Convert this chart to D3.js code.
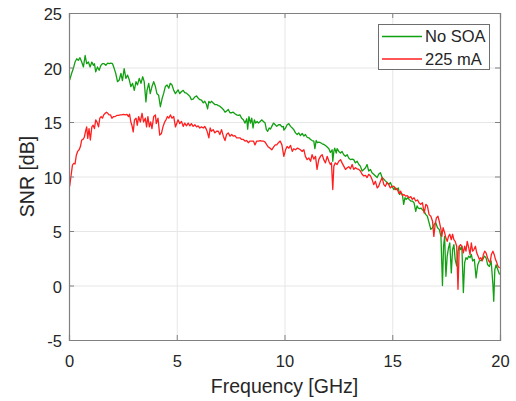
<!DOCTYPE html>
<html>
<head>
<meta charset="utf-8">
<script src="https://cdn.jsdelivr.net/npm/d3@7"></script>
<style>
body { margin: 0; background: #fff; }
text { font-family: "Liberation Sans", Arial, Helvetica, sans-serif; fill: #262626; }
</style>
</head>
<body>
<svg id="chart" width="516" height="401"></svg>
<script>
// [frequency GHz, SNR dB]
const noSoa = [
  [0.03,18.84],[0.12,19.45],[0.20,19.9],[0.28,20.5],[0.36,20.8],[0.43,20.65],[0.51,20.9],[0.59,20.5],
  [0.67,20.05],[0.75,21.1],[0.82,20.35],[0.90,20.5],[0.98,20.05],[1.06,20.5],[1.13,20.2],[1.18,20.35],
  [1.24,19.6],[1.32,20.05],[1.40,19.75],[1.48,20.2],[1.55,20.35],[1.63,20.35],[1.71,20.2],[1.79,20.4],
  [1.86,20.35],[1.94,20.4],[2.02,20.35],[2.10,19.9],[2.17,19.45],[2.25,18.7],[2.33,18.85],[2.41,19.45],
  [2.48,18.8],[2.56,19.9],[2.64,19.0],[2.72,19.3],[2.80,18.85],[2.87,18.25],[2.95,18.55],[3.03,17.9],
  [3.11,18.7],[3.18,18.4],[3.26,19.0],[3.34,18.55],[3.42,19.15],[3.49,18.7],[3.57,16.85],[3.62,17.9],
  [3.70,18.55],[3.77,17.6],[3.85,18.25],[3.93,18.7],[4.01,18.25],[4.08,17.6],[4.16,17.45],[4.24,16.4],
  [4.32,17.15],[4.39,17.6],[4.47,18.25],[4.55,18.4],[4.63,18.1],[4.70,18.55],[4.78,18.4],[4.86,17.9],
  [4.94,17.6],[5.06,17.95],[5.14,17.6],[5.22,17.8],[5.30,17.9],[5.37,17.7],[5.45,17.65],[5.53,17.5],
  [5.61,17.35],[5.68,17.05],[5.76,17.1],[5.84,17.3],[5.92,17.4],[5.99,17.2],[6.07,17.05],[6.15,17.0],
  [6.23,16.75],[6.30,16.9],[6.38,16.6],[6.43,16.2],[6.49,16.9],[6.55,16.75],[6.61,16.9],[6.69,16.75],
  [6.77,16.6],[6.85,16.6],[6.93,16.5],[7.00,16.45],[7.08,16.3],[7.16,16.15],[7.24,15.9],[7.31,16.0],
  [7.39,16.15],[7.47,15.85],[7.55,15.85],[7.62,15.9],[7.70,15.75],[7.78,15.65],[7.86,15.6],[7.93,15.65],
  [8.01,15.35],[8.09,15.2],[8.17,14.9],[8.25,15.3],[8.29,14.35],[8.35,15.5],[8.42,14.9],[8.48,15.35],
  [8.54,14.45],[8.60,15.2],[8.66,14.9],[8.73,15.05],[8.79,14.9],[8.87,15.05],[8.94,15.2],[9.02,15.05],
  [9.10,14.9],[9.16,14.3],[9.22,14.15],[9.29,14.45],[9.35,14.35],[9.41,14.6],[9.49,14.9],[9.57,14.75],
  [9.64,14.6],[9.72,14.75],[9.80,14.75],[9.88,14.55],[9.95,14.6],[9.97,14.25],[10.05,14.45],[10.12,14.75],
  [10.20,14.85],[10.28,14.6],[10.36,14.45],[10.43,14.3],[10.51,14.0],[10.59,13.85],[10.66,14.0],[10.74,13.75],
  [10.82,13.95],[10.90,13.7],[10.97,13.85],[11.05,13.6],[11.13,13.55],[11.21,13.4],[11.28,13.3],[11.36,13.25],
  [11.41,12.55],[11.47,13.3],[11.53,13.1],[11.59,13.15],[11.67,13.1],[11.75,13.0],[11.82,12.95],[11.90,12.85],
  [11.98,12.7],[12.06,12.55],[12.13,12.2],[12.21,12.45],[12.24,11.4],[12.29,12.3],[12.33,12.6],[12.40,12.15],
  [12.44,12.55],[12.52,12.3],[12.60,12.15],[12.67,12.3],[12.75,12.0],[12.83,11.85],[12.91,12.0],[12.98,11.7],
  [13.06,11.55],[13.14,11.6],[13.21,11.55],[13.29,11.25],[13.37,11.4],[13.45,11.1],[13.52,10.95],[13.60,10.5],
  [13.68,10.65],[13.76,10.8],[13.83,11.1],[13.91,10.5],[13.99,10.65],[14.06,10.35],[14.14,10.2],[14.22,10.05],
  [14.30,9.9],[14.37,10.2],[14.45,10.35],[14.53,9.9],[14.61,9.75],[14.68,9.6],[14.76,9.45],[14.84,9.25],
  [14.91,9.45],[14.99,9.1],[15.08,8.8],[15.16,8.95],[15.23,8.8],[15.28,8.95],[15.34,8.35],[15.40,8.5],
  [15.47,8.35],[15.53,7.45],[15.59,8.05],[15.65,7.9],[15.72,8.05],[15.78,7.9],[15.86,7.75],[15.93,7.75],
  [16.01,7.6],[16.09,6.8],[16.15,7.3],[16.21,7.1],[16.28,7.05],[16.34,7.1],[16.40,6.95],[16.48,6.8],
  [16.56,6.5],[16.63,6.35],[16.71,5.75],[16.79,5.15],[16.87,5.3],[16.94,5.6],[17.02,5.75],[17.10,5.3],
  [17.18,5.15],[17.26,4.5],[17.33,0.0],[17.38,3.6],[17.43,4.5],[17.49,0.85],[17.55,2.7],[17.61,3.45],
  [17.67,3.9],[17.74,1.15],[17.80,3.3],[17.86,3.75],[17.92,2.4],[17.99,1.8],[18.05,3.15],[18.11,3.6],
  [18.17,3.3],[18.23,3.6],[18.30,-0.65],[18.36,2.1],[18.42,2.55],[18.48,2.4],[18.55,2.7],[18.61,2.55],
  [18.67,2.85],[18.73,2.25],[18.81,2.4],[18.89,0.7],[18.97,1.9],[19.04,2.25],[19.12,2.3],[19.20,2.4],
  [19.28,2.7],[19.35,2.55],[19.43,1.9],[19.51,1.75],[19.59,2.25],[19.67,0.1],[19.71,-1.45],[19.76,1.45],
  [19.82,1.9],[19.90,1.45],[19.98,1.0]
]

const ma225 = [
  [0.03,9.08],[0.09,10.0],[0.16,11.05],[0.22,11.2],[0.28,11.15],[0.34,11.95],[0.40,12.3],[0.47,12.45],
  [0.53,12.75],[0.59,13.35],[0.65,13.4],[0.71,13.6],[0.78,14.25],[0.82,14.55],[0.87,13.5],[0.93,14.4],
  [0.99,13.35],[1.06,14.55],[1.12,14.7],[1.18,14.4],[1.24,15.2],[1.30,15.0],[1.37,14.55],[1.43,15.35],
  [1.49,15.5],[1.55,15.35],[1.61,15.65],[1.68,15.8],[1.74,15.9],[1.80,15.8],[1.86,15.65],[1.93,15.65],
  [1.99,15.35],[2.07,15.5],[2.14,15.5],[2.22,15.6],[2.30,15.6],[2.38,15.65],[2.45,15.65],[2.53,15.7],
  [2.61,15.65],[2.69,15.7],[2.76,15.5],[2.81,15.72],[2.87,15.0],[2.92,14.7],[2.98,14.1],[3.04,15.2],
  [3.11,15.35],[3.17,14.7],[3.23,15.5],[3.31,15.0],[3.39,15.8],[3.46,15.0],[3.54,15.35],[3.60,14.55],
  [3.66,15.5],[3.73,14.55],[3.79,15.0],[3.85,14.4],[3.93,15.5],[4.01,15.65],[4.05,14.85],[4.13,15.35],
  [4.21,13.8],[4.29,13.95],[4.36,14.55],[4.44,15.0],[4.50,15.2],[4.57,15.5],[4.63,15.35],[4.71,15.65],
  [4.78,15.35],[4.86,15.5],[4.94,14.55],[5.06,15.2],[5.14,14.85],[5.22,15.05],[5.30,14.6],[5.37,14.9],
  [5.45,14.65],[5.53,14.9],[5.61,14.65],[5.68,14.85],[5.76,14.6],[5.84,14.75],[5.92,14.55],[5.99,14.65],
  [6.07,14.45],[6.15,14.55],[6.23,14.45],[6.30,14.6],[6.38,14.3],[6.43,14.0],[6.49,13.55],[6.55,14.45],
  [6.61,14.15],[6.69,14.3],[6.77,14.0],[6.85,14.15],[6.93,14.15],[7.00,13.85],[7.08,14.3],[7.16,13.7],
  [7.24,13.3],[7.31,13.85],[7.39,14.0],[7.47,13.7],[7.55,13.85],[7.62,13.7],[7.70,13.75],[7.78,13.55],
  [7.86,13.55],[7.93,13.55],[8.01,13.4],[8.09,13.4],[8.17,13.25],[8.25,13.3],[8.32,13.1],[8.40,13.25],
  [8.48,13.25],[8.56,13.25],[8.63,12.9],[8.71,13.25],[8.79,13.25],[8.87,13.3],[8.94,13.25],[9.02,13.25],
  [9.10,13.15],[9.18,12.9],[9.25,12.7],[9.33,12.6],[9.41,12.45],[9.49,12.7],[9.57,12.9],[9.64,12.9],
  [9.72,13.1],[9.80,13.25],[9.88,12.9],[9.97,11.85],[10.05,12.45],[10.12,12.75],[10.20,12.6],[10.28,12.85],
  [10.36,12.3],[10.43,12.55],[10.51,12.45],[10.59,12.6],[10.66,12.55],[10.74,12.45],[10.82,12.3],[10.90,12.45],
  [10.97,11.85],[11.05,11.55],[11.13,11.7],[11.21,11.4],[11.28,12.0],[11.36,11.6],[11.44,11.85],[11.51,10.65],
  [11.59,11.55],[11.67,11.85],[11.75,12.0],[11.82,11.55],[11.90,11.25],[11.98,11.85],[12.06,11.4],[12.13,11.1],
  [12.18,11.25],[12.24,8.8],[12.29,10.95],[12.36,11.25],[12.44,11.1],[12.52,11.4],[12.60,11.55],[12.67,11.25],
  [12.75,10.95],[12.83,10.65],[12.91,10.8],[12.98,10.9],[13.06,10.7],[13.14,11.1],[13.21,10.65],[13.29,10.8],
  [13.37,10.7],[13.45,10.65],[13.52,10.5],[13.60,10.2],[13.68,10.05],[13.76,10.1],[13.83,9.9],[13.91,10.2],
  [13.99,10.05],[14.06,9.75],[14.14,9.25],[14.22,9.55],[14.30,8.95],[14.37,9.1],[14.45,9.55],[14.53,9.9],
  [14.61,9.25],[14.68,9.1],[14.76,9.45],[14.84,9.25],[14.91,8.95],[14.99,9.1],[15.08,9.1],[15.16,8.8],
  [15.23,8.85],[15.31,8.45],[15.39,8.65],[15.47,8.25],[15.54,8.35],[15.62,8.2],[15.70,8.25],[15.78,8.05],
  [15.86,8.15],[15.93,7.9],[16.01,8.05],[16.09,7.75],[16.17,7.85],[16.24,7.6],[16.32,7.45],[16.40,7.6],
  [16.48,6.65],[16.56,7.45],[16.63,7.3],[16.71,6.5],[16.79,6.35],[16.87,5.9],[16.93,4.5],[16.99,5.6],
  [17.05,6.2],[17.12,6.35],[17.18,5.9],[17.26,5.15],[17.30,4.5],[17.36,5.3],[17.43,4.85],[17.49,4.35],
  [17.55,4.05],[17.61,4.5],[17.67,4.7],[17.74,4.2],[17.80,4.7],[17.86,4.2],[17.92,4.05],[17.99,3.6],
  [18.05,-0.35],[18.11,3.6],[18.17,3.75],[18.23,3.6],[18.30,3.0],[18.36,3.6],[18.42,3.15],[18.48,4.05],
  [18.55,3.45],[18.61,2.85],[18.67,3.9],[18.73,3.15],[18.79,3.3],[18.86,3.6],[18.92,3.0],[18.98,2.7],
  [19.04,2.4],[19.11,2.55],[19.17,2.25],[19.23,2.85],[19.29,3.15],[19.35,3.0],[19.42,2.55],[19.48,2.25],
  [19.54,2.1],[19.60,2.85],[19.67,3.15],[19.73,2.85],[19.79,2.4],[19.85,2.1],[19.91,1.75],[19.98,1.6]
]

const xTicks = [0, 5, 10, 15, 20]
const yTicks = [-5, 0, 5, 10, 15, 20, 25]
const seriesNames = ['No SOA', '225 mA']
const seriesColors = ['#11a011', '#ff1f1f']

const margin = {left: 69, top: 13}
const width = 431
const height = 327

const svg = d3.select('#chart')

const x = d3.scaleLinear().domain([0, 20]).range([0, width])
const y = d3.scaleLinear().domain([-5, 25]).range([height, 0])

const g = svg.append('g')
    .attr('transform', 'translate(' + margin.left + ',' + margin.top + ')')

// Grid
g.append('g')
    .attr('class', 'grid')
    .attr('transform', 'translate(0,' + height + ')')
    .call(d3.axisBottom(x).tickValues(xTicks).tickSize(-height).tickFormat(''))
g.append('g')
    .attr('class', 'grid')
    .call(d3.axisLeft(y).tickValues(yTicks).tickSize(-width).tickFormat(''))
g.selectAll('.grid .domain').remove()
g.selectAll('.grid line').attr('stroke', '#e6e6e6').attr('stroke-width', 1)

// Lines
g.append('clipPath').attr('id', 'clip')
    .append('rect').attr('width', width).attr('height', height)

const line = d3.line()
    .x(d => x(d[0]))
    .y(d => y(d[1]))

const allSeries = [noSoa, ma225]
g.append('g')
    .attr('clip-path', 'url(#clip)')
    .selectAll('path')
    .data(allSeries)
    .enter()
    .append('path')
    .attr('d', line)
    .attr('fill', 'none')
    .attr('stroke', (_, i) => seriesColors[i])
    .attr('stroke-width', 1.3)
    .attr('stroke-linejoin', 'round')

// Axes (box with inward ticks), plain hyphen for negatives
const fmt = d => String(d)
const axisBottom = g.append('g')
    .attr('transform', 'translate(0,' + height + ')')
    .call(d3.axisBottom(x).tickValues(xTicks).tickSize(-5).tickPadding(15).tickFormat(fmt))
const axisLeft = g.append('g')
    .call(d3.axisLeft(y).tickValues(yTicks).tickSize(-5).tickPadding(7).tickFormat(fmt))
g.append('g')
    .call(d3.axisTop(x).tickValues(xTicks).tickSize(-5).tickFormat(''))
g.append('g')
    .attr('transform', 'translate(' + width + ',0)')
    .call(d3.axisRight(y).tickValues(yTicks).tickSize(-5).tickFormat(''))

g.selectAll('.domain').attr('stroke', '#808080').attr('stroke-width', 1.2)
g.selectAll('.tick line').filter(function(){ return !this.closest('.grid') })
    .attr('stroke', '#808080')
g.selectAll('.tick text')
    .attr('font-size', 16.5)
    .attr('fill', '#262626')
    .style('font-family', '"Liberation Sans", Arial, sans-serif')
axisLeft.selectAll('.tick text').attr('dy', '0.4em')

// Axis labels
svg.append('text')
    .attr('x', margin.left + width / 2)
    .attr('y', 393)
    .attr('text-anchor', 'middle')
    .attr('font-size', 19.5)
    .text('Frequency [GHz]')

svg.append('text')
    .attr('transform', 'translate(34,' + (margin.top + height / 2) + ') rotate(-90)')
    .attr('text-anchor', 'middle')
    .attr('font-size', 19.5)
    .text('SNR [dB]')

// Legend
const legend = svg.append('g')
legend.append('rect')
    .attr('x', 378.5).attr('y', 24.5)
    .attr('width', 111).attr('height', 45)
    .attr('fill', '#fff')
    .attr('stroke', '#6e6e6e')
    .attr('stroke-width', 1)

const legendItems = legend.selectAll('g.item')
    .data(seriesNames)
    .enter()
    .append('g')
    .classed('item', true)
    .attr('transform', (_, i) => 'translate(0,' + (36.5 + i * 22.5) + ')')

legendItems.append('line')
    .attr('x1', 382).attr('x2', 422)
    .attr('stroke', (_, i) => seriesColors[i])
    .attr('stroke-width', 1.3)

legendItems.append('text')
    .attr('x', 425)
    .attr('dy', '0.36em')
    .attr('font-size', 16.5)
    .text(d => d)
</script>
</body>
</html>
